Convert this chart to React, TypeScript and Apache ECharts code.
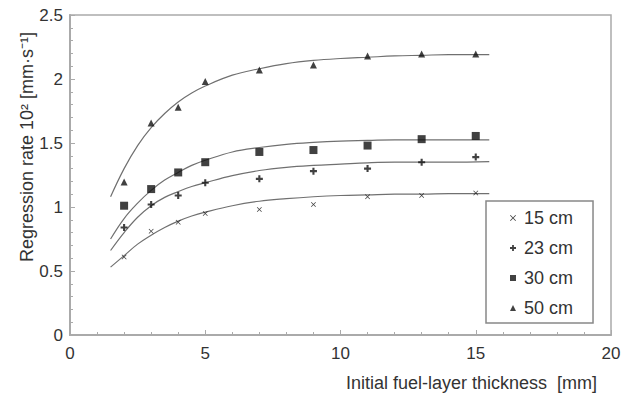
import React, { useEffect, useRef } from "react";
import * as echarts from "echarts";

// Measured data points (x: initial fuel-layer thickness [mm])
const xPoints = [2, 3, 4, 5, 7, 9, 11, 13, 15];
const s15 = [0.61, 0.81, 0.88, 0.95, 0.98, 1.02, 1.08, 1.09, 1.11];
const s23 = [0.84, 1.02, 1.09, 1.19, 1.22, 1.28, 1.3, 1.35, 1.39];
const s30 = [1.01, 1.14, 1.27, 1.35, 1.43, 1.445, 1.48, 1.53, 1.555];
const s50 = [1.195, 1.656, 1.78, 1.98, 2.07, 2.11, 2.18, 2.195, 2.195];

// Fitted curves
const xCurve = [1.5, 2, 2.5, 3, 3.5, 4, 4.5, 5, 6, 7, 8, 9, 10, 11, 12, 13, 14, 15.5];
const c15 = [0.53, 0.62, 0.71, 0.78, 0.84, 0.89, 0.93, 0.96, 1.01, 1.045, 1.065, 1.08, 1.09, 1.095, 1.1, 1.1, 1.105, 1.105];
const c23 = [0.66, 0.8, 0.92, 1.01, 1.075, 1.12, 1.16, 1.19, 1.245, 1.285, 1.31, 1.325, 1.335, 1.345, 1.35, 1.35, 1.35, 1.355];
const c30 = [0.75, 0.91, 1.03, 1.13, 1.21, 1.27, 1.325, 1.365, 1.43, 1.465, 1.49, 1.505, 1.515, 1.52, 1.525, 1.525, 1.525, 1.525];
const c50 = [1.08, 1.3, 1.48, 1.62, 1.73, 1.82, 1.89, 1.945, 2.03, 2.08, 2.12, 2.145, 2.16, 2.17, 2.18, 2.185, 2.19, 2.19];

const seriesNames = ["15 cm", "23 cm", "30 cm", "50 cm"];

const plusPath = "path://M3.5,0H6.5V3.5H10V6.5H6.5V10H3.5V6.5H0V3.5H3.5Z";
const crossPath = "path://M0,1L1,0L5,4L9,0L10,1L6,5L10,9L9,10L5,6L1,10L0,9L4,5Z";

const FONT = "Liberation Sans, Arial, sans-serif";

export default function App() {
  const ref = useRef<HTMLDivElement>(null);
  useEffect(() => {
    if (!ref.current) return;
    const chart = echarts.init(ref.current, undefined, { renderer: "svg" });
    const pts = (ys: number[]) => xPoints.map((x, i) => [x, ys[i]]);
    const crv = (ys: number[]) => xCurve.map((x, i) => [x, ys[i]]);
    const curveStyle = { color: "#707070", width: 1.2 };
    const lineSeries = [c15, c23, c30, c50].map((c) => ({
      type: "line",
      data: crv(c),
      smooth: 0.4,
      showSymbol: false,
      symbol: "none",
      lineStyle: curveStyle,
      silent: true,
      z: 1,
    }));
    const scatterDefs = [
      { data: s15, symbol: crossPath, size: 5 },
      { data: s23, symbol: plusPath, size: 7 },
      { data: s30, symbol: "rect", size: 8 },
      { data: s50, symbol: "triangle", size: 7 },
    ];
    const scatterSeries = scatterDefs.map((d, i) => ({
      type: "scatter",
      name: seriesNames[i],
      data: pts(d.data),
      symbol: d.symbol,
      symbolSize: d.size,
      itemStyle: { color: "#111" },
      z: 3,
    }));
    chart.setOption({
      animation: false,
      textStyle: { fontFamily: FONT },
      grid: {
        left: 70,
        right: 13,
        top: 15,
        bottom: 63,
        show: true,
        borderColor: "#aaaaaa",
        borderWidth: 1.5,
      },
      xAxis: {
        type: "value",
        min: 0,
        max: 20,
        interval: 5,
        axisLine: { lineStyle: { color: "#aaaaaa", width: 2 } },
        axisTick: { inside: true, length: 5, lineStyle: { color: "#aaaaaa" } },
        minorTick: { show: true, splitNumber: 5, length: 3, lineStyle: { color: "#aaaaaa" } },
        splitLine: { show: false },
        axisLabel: { color: "#333", fontSize: 17, margin: 10, fontFamily: FONT },
      },
      yAxis: {
        type: "value",
        min: 0,
        max: 2.5,
        interval: 0.5,
        axisLine: { show: true, lineStyle: { color: "#aaaaaa", width: 2 } },
        axisTick: { show: true, inside: true, length: 5, lineStyle: { color: "#aaaaaa" } },
        minorTick: { show: true, splitNumber: 5, length: 3, lineStyle: { color: "#aaaaaa" } },
        splitLine: { show: false },
        axisLabel: { color: "#333", fontSize: 17, margin: 7, fontFamily: FONT },
      },
      legend: {
        data: seriesNames,
        orient: "vertical",
        left: 486,
        top: 201,
        itemWidth: 6,
        itemHeight: 6,
        itemGap: 12,
        padding: [8, 20, 6, 24],
        borderColor: "#888",
        borderWidth: 1.5,
        backgroundColor: "#fff",
        textStyle: { color: "#333", fontSize: 18, fontFamily: FONT, padding: [0, 0, 0, 3] },
      },
      graphic: [
        {
          type: "text",
          x: 27,
          y: 147,
          rotation: Math.PI / 2,
          style: {
            text: "Regression rate 10² [mm·s⁻¹]",
            fill: "#333",
            font: `18px ${FONT}`,
            textAlign: "center",
            textVerticalAlign: "middle",
          },
        },
        {
          type: "text",
          x: 597,
          y: 383,
          style: {
            text: "Initial fuel-layer thickness  [mm]",
            fill: "#333",
            font: `18px ${FONT}`,
            textAlign: "right",
            textVerticalAlign: "middle",
          },
        },
      ],
      series: [...lineSeries, ...scatterSeries],
    });
    return () => chart.dispose();
  }, []);
  return <div ref={ref} style={{ width: 624, height: 398, position: "absolute", left: 0, top: 0 }} />;
}
